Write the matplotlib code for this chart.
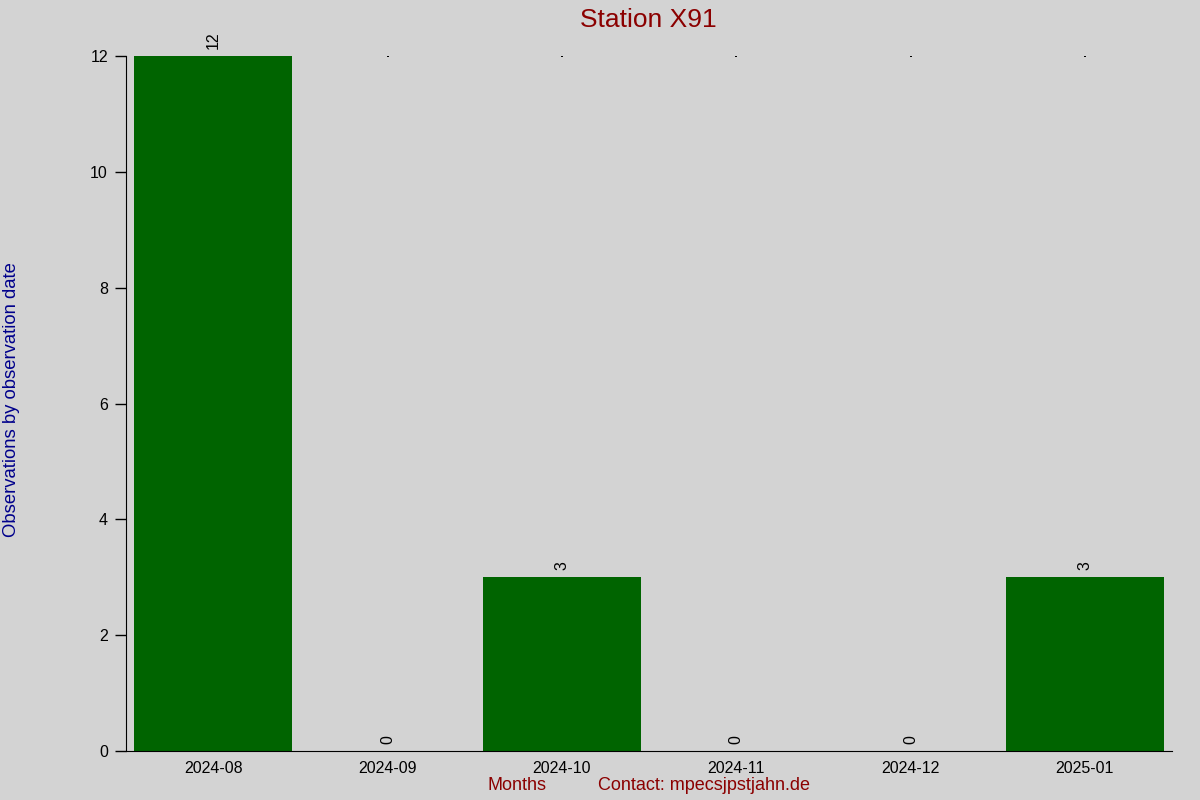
import matplotlib.pyplot as plt
import numpy as np

# data
months = ['2024-08', '2024-09', '2024-10', '2024-11', '2024-12', '2025-01']
counts = [12, 0, 3, 0, 0, 3]

plt.rcParams['font.family'] = ['Liberation Sans', 'DejaVu Sans']
bg = '#d3d3d3'

fig = plt.figure(figsize=(12, 8), dpi=100, facecolor=bg)
ax = fig.add_axes([0.105, 0.06125, 0.8717, 0.86875], facecolor=bg)

x = np.arange(len(months))
ax.scatter(x, [max(counts)] * len(x), marker='s', s=1.5, color='black', zorder=1, linewidths=0)
ax.bar(x, counts, width=0.906, color='#006400', zorder=2)

# value labels above the bars
for xi, c in zip(x, counts):
    ax.annotate(str(c), (xi, c), xytext=(0, 5), textcoords='offset points',
                rotation=90, ha='center', va='bottom', fontsize=11.5)

ax.set_xlim(-0.5, 5.5)
ax.set_ylim(0, 12)
ax.set_xticks(x)
ax.set_xticklabels(months)
ax.set_yticks([0, 2, 4, 6, 8, 10, 12])
ax.tick_params(axis='x', length=0, pad=7, labelsize=11.5)
ax.tick_params(axis='y', length=8, width=1, pad=5, labelsize=11.5)
ax.spines['top'].set_visible(False)
ax.spines['right'].set_visible(False)

fig.text(0.54, 0.975, 'Station X91', color='#8b0000', fontsize=19, ha='center', va='center')
fig.text(0.0095, 0.5, 'Observations by observation date', color='#00008b', fontsize=13.3,
         rotation=90, ha='center', va='center')
fig.text(517 / 1200, 1 - 786 / 800, 'Months', color='#8b0000', fontsize=13, ha='center', va='center')
fig.text(704 / 1200, 1 - 786 / 800, 'Contact: mpecsjpstjahn.de', color='#8b0000', fontsize=13,
         ha='center', va='center')

fig.savefig('out.png', dpi=100, facecolor=bg)
